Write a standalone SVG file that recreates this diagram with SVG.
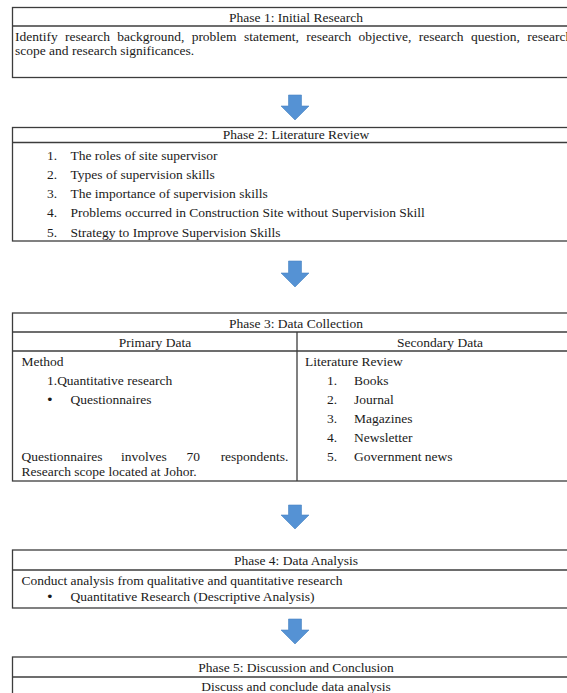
<svg xmlns="http://www.w3.org/2000/svg" width="567" height="693" viewBox="0 0 567 693">
<style>
text{font-family:"Liberation Serif","Times New Roman",serif;font-size:13.5px;fill:#1a1a1a}
.c{text-anchor:middle}
.e{text-anchor:end}
.b{font-family:"DejaVu Sans","Liberation Sans",sans-serif;font-size:13px}
.box{fill:#fff;stroke:#3c3c3c;stroke-width:1.3}
.ln{stroke:#3c3c3c;stroke-width:1.3}
.arr{fill:#5592d4;stroke:#4a84c2;stroke-width:0.6}
</style>
<rect width="567" height="693" fill="#fff"/>
<g id="phase1">
<rect class="box" x="12.5" y="7.5" width="570" height="70"/>
<line class="ln" x1="12.5" y1="26" x2="583" y2="26"/>
<text class="c" x="296" y="21.5">Phase 1: Initial Research</text>
<text x="15" y="40.5" word-spacing="3.9">Identify research background, problem statement, research objective, research question, research</text>
<text x="15" y="55">scope and research significances.</text>
</g>
<g id="phase2">
<rect class="box" x="12.5" y="127.5" width="570" height="113.5"/>
<line class="ln" x1="12.5" y1="142.5" x2="583" y2="142.5"/>
<text class="c" x="296" y="138.5">Phase 2: Literature Review</text>
<text x="47" y="159.5">1.</text><text x="70.5" y="159.5">The roles of site supervisor</text>
<text x="47" y="178.5">2.</text><text x="70.5" y="178.5">Types of supervision skills</text>
<text x="47" y="198">3.</text><text x="70.5" y="198">The importance of supervision skills</text>
<text x="47" y="217">4.</text><text x="70.5" y="217">Problems occurred in Construction Site without Supervision Skill</text>
<text x="47" y="236.5">5.</text><text x="70.5" y="236.5">Strategy to Improve Supervision Skills</text>
</g>
<g id="phase3">
<rect class="box" x="12.5" y="313" width="570" height="168"/>
<line class="ln" x1="12.5" y1="332" x2="583" y2="332"/>
<line class="ln" x1="12.5" y1="351" x2="583" y2="351"/>
<line class="ln" x1="297" y1="332" x2="297" y2="481"/>
<text class="c" x="296" y="327.5">Phase 3: Data Collection</text>
<text class="c" x="155" y="346.5">Primary Data</text>
<text class="c" x="440" y="346.5">Secondary Data</text>
<text x="21.5" y="365.5">Method</text>
<text x="47" y="384.5">1.Quantitative research</text>
<text class="b" x="46" y="403.5">•</text><text x="70.5" y="403.5">Questionnaires</text>
<text x="21.5" y="460.5">Questionnaires</text>
<text x="121" y="460.5">involves</text>
<text x="186.5" y="460.5">70</text>
<text class="e" x="288.5" y="460.5">respondents.</text>
<text x="21.5" y="475.5">Research scope located at Johor.</text>
<text x="305" y="365.5">Literature Review</text>
<text x="327" y="384.5">1.</text><text x="354" y="384.5">Books</text>
<text x="327" y="403.5">2.</text><text x="354" y="403.5">Journal</text>
<text x="327" y="422.5">3.</text><text x="354" y="422.5">Magazines</text>
<text x="327" y="441.5">4.</text><text x="354" y="441.5">Newsletter</text>
<text x="327" y="460.5">5.</text><text x="354" y="460.5">Government news</text>
</g>
<g id="phase4">
<rect class="box" x="12.5" y="550" width="570" height="58"/>
<line class="ln" x1="12.5" y1="570" x2="583" y2="570"/>
<text class="c" x="296" y="565">Phase 4: Data Analysis</text>
<text x="21.5" y="585">Conduct analysis from qualitative and quantitative research</text>
<text class="b" x="46" y="601">•</text><text x="70.5" y="601">Quantitative Research (Descriptive Analysis)</text>
</g>
<g id="phase5">
<rect class="box" x="12.5" y="657" width="570" height="50"/>
<line class="ln" x1="12.5" y1="677" x2="583" y2="677"/>
<text class="c" x="296" y="672">Phase 5: Discussion and Conclusion</text>
<text class="c" x="296" y="691">Discuss and conclude data analysis</text>
</g>
<g id="connectors">
<path class="arr" d="M288.5 95 H301.5 V106 H309 L295 120 L281 106 H288.5 Z"/>
<path class="arr" d="M288.5 261 H301.5 V273 H309 L295 287 L281 273 H288.5 Z"/>
<path class="arr" d="M288.5 505 H301.5 V515 H309 L295 529 L281 515 H288.5 Z"/>
<path class="arr" d="M288.5 619 H301.5 V630 H309 L295 644 L281 630 H288.5 Z"/>
</g>
</svg>
